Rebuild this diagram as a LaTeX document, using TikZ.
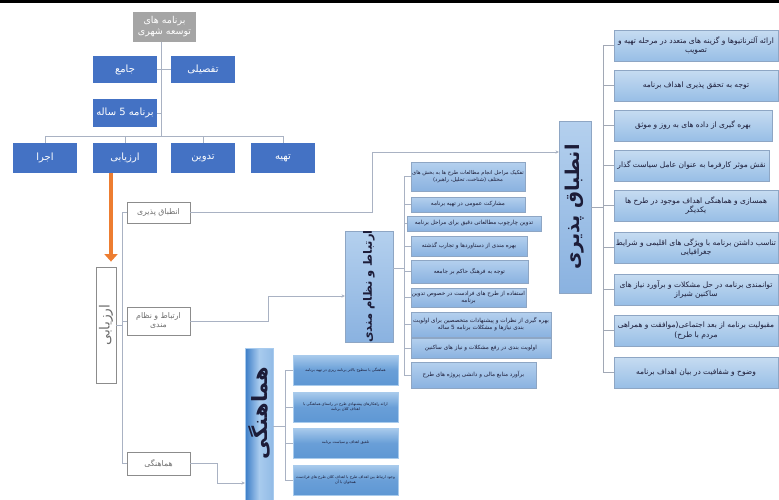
\documentclass[tikz,border=0pt]{standalone}
\usepackage{fontspec}
\setmainfont{DejaVu Sans}
\newfontfamily\fafont[Script=Arabic]{DejaVu Sans}
\TeXXeTstate=1
\usetikzlibrary{arrows.meta,shadows}
\newcommand\fa[1]{\beginR #1\endR}
\definecolor{treeblue}{HTML}{4472C4}
\definecolor{rootgray}{HTML}{A5A5A5}
\definecolor{lineg}{HTML}{A9B2C3}
\definecolor{boxgray}{HTML}{8C8C8C}
\definecolor{textgray}{HTML}{6F6F6F}
\definecolor{orangearr}{HTML}{ED7D31}
\definecolor{lblueA}{HTML}{C6DCF1}
\definecolor{lblueB}{HTML}{98BEE6}
\definecolor{mblueA}{HTML}{B4D0EE}
\definecolor{mblueB}{HTML}{8AB2E0}
\definecolor{bordblue}{HTML}{8EA6C4}
\definecolor{darktext}{HTML}{1C1C38}
\definecolor{hdark}{HTML}{3A7CC6}
\definecolor{hlight}{HTML}{A8CBEE}
\definecolor{hsubA}{HTML}{A9CBEC}
\definecolor{hsubB}{HTML}{5E97D4}
\tikzset{
  conn/.style={draw=lineg, line width=0.7pt},
  arr/.style={conn, -{Stealth[length=3.5pt,width=3.2pt]}},
  treebox/.style={rectangle, fill=treeblue, draw=none, text=white, inner sep=0pt, align=center,
    font=\fafont\fontsize{10}{12}\selectfont},
  rootbox/.style={treebox, fill=rootgray, font=\fafont\fontsize{9.5}{11}\selectfont},
  greybox/.style={rectangle, draw=boxgray, line width=0.8pt, fill=white, text=textgray, inner sep=0pt, align=center,
    font=\fafont\fontsize{7.8}{9}\selectfont},
  rbox/.style={rectangle, draw=bordblue, line width=0.6pt, top color=lblueA, bottom color=lblueB, text=darktext,
    inner sep=0.5pt, align=center, font=\fafont\fontsize{7.5}{9.5}\selectfont,
    drop shadow={opacity=0.25, shadow xshift=1pt, shadow yshift=-1.2pt}},
  mbox/.style={rectangle, draw=bordblue, line width=0.5pt, top color=mblueA, bottom color=mblueB, text=darktext,
    inner sep=0.5pt, align=center, font=\fafont\fontsize{5.7}{7}\selectfont,
    drop shadow={opacity=0.2, shadow xshift=0.8pt, shadow yshift=-0.8pt}},
  hsub/.style={rectangle, draw=hsubA, line width=0.6pt, top color=hsubA, bottom color=hsubB, middle color=hsubB!85!hsubA,
    text=darktext, inner sep=1pt, align=center, font=\fafont\fontsize{3.8}{5}\selectfont},
  bigbox/.style={rectangle, draw=bordblue, line width=0.6pt, top color=mblueA, bottom color=mblueB, inner sep=0pt},
  bigtext/.style={rotate=90, text=darktext, inner sep=0pt, font=\fafont\bfseries\fontsize{19}{22}\selectfont},
}
\begin{document}
\begin{tikzpicture}[x=1pt,y=-1pt]
\useasboundingbox (0,0) rectangle (779,499);
\clip (0,0) rectangle (779,499);
\fill[black] (0,0) rectangle (779,2.5);

% ---------- top tree ----------
\node[rootbox, minimum width=63pt, minimum height=30pt] (root) at (164.5,27) {\fa{برنامه های}\\\fa{توسعه شهری}};
\node[treebox, minimum width=64pt, minimum height=27pt] (jame) at (125,69.5) {\fa{جامع}};
\node[treebox, minimum width=64pt, minimum height=27pt] (tafsili) at (203,69.5) {\fa{تفصیلی}};
\node[treebox, minimum width=64pt, minimum height=28pt] (b5) at (125,113) {\fa{برنامه 5 ساله}};
\node[treebox, minimum width=64pt, minimum height=30pt] (ejra) at (45,158) {\fa{اجرا}};
\node[treebox, minimum width=64pt, minimum height=30pt] (arzyabi) at (125,158) {\fa{ارزیابی}};
\node[treebox, minimum width=64pt, minimum height=30pt] (tadvin) at (203,158) {\fa{تدوین}};
\node[treebox, minimum width=64pt, minimum height=30pt] (tahiye) at (283,158) {\fa{تهیه}};

\coordinate (hub) at (161,136);
\coordinate (jb) at (161,113);
\draw[conn] (root.south -| hub) -- (hub);
\draw[conn] (jame.east) -- (tafsili.west);
\draw[conn] (b5.east) -- (jb);
\draw[conn] (ejra.north) |- (hub);
\draw[conn] (arzyabi.north) |- (hub);
\draw[conn] (tadvin.north) |- (hub);
\draw[conn] (tahiye.north) |- (hub);

% ---------- evaluation ----------
\node[greybox, minimum width=20pt, minimum height=116pt] (vbox) at (106,325) {};
\node[rotate=90, text=textgray, inner sep=0pt, font=\fafont\fontsize{14}{16}\selectfont] (vboxt) at (vbox.center) {\fa{ارزیابی}};
\coordinate (oa) at (111,173);
\draw[orangearr, line width=4.3pt, -{Triangle[width=13pt,length=7.5pt]}, shorten >=5pt] (oa) -- (oa |- vbox.north);

\node[greybox, minimum width=63pt, minimum height=21pt] (s1) at (158.5,212.5) {\fa{انطباق پذیری}};
\node[greybox, minimum width=63pt, minimum height=28pt] (s2) at (158.5,321) {\fa{ارتباط و نظام}\\\fa{مندی}};
\node[greybox, minimum width=63pt, minimum height=23pt] (s3) at (158.5,463.5) {\fa{هماهنگی}};
\coordinate (lb) at (122,325);
\draw[conn] (vbox.east) -- (lb);
\draw[conn] (s1.west) -| (lb);
\draw[conn] (s3.west) -| (lb);
\draw[conn] (s2.west) -- (s2.west -| lb);

% ---------- big boxes ----------
\node[bigbox, minimum width=32pt, minimum height=172pt] (B1) at (575,207) {};
\node[bigtext] (B1t) at (B1.center) {\fa{انطباق پذیری}};
\node[bigbox, minimum width=48pt, minimum height=111pt] (B2) at (369,286.5) {};
\node[bigtext, font=\fafont\bfseries\fontsize{11.5}{14}\selectfont] (B2t) at (B2.center) {\fa{ارتباط و نظام مندی}};
\node[rectangle, draw=hlight, line width=0.6pt, left color=hdark, right color=hlight!80!hdark, middle color=hlight,
      minimum width=28pt, minimum height=156pt, inner sep=0pt] (B3) at (259,426) {};
\node[bigtext, font=\fafont\bfseries\fontsize{21}{24}\selectfont] (B3t) at (259,413) {\fa{هماهنگی}};

% connectors from small boxes to big boxes
\coordinate (k1) at (372,212.5);
\coordinate (a1) at (559,152);
\draw[arr] (s1.east) -- (k1) |- (a1);
\coordinate (k2) at (268,321);
\coordinate (a2) at (345,296);
\draw[arr] (s2.east) -- (k2) |- (a2);
\coordinate (k3) at (217,463.5);
\coordinate (a3) at (245,483);
\draw[arr] (s3.east) -- (k3) |- (a3);

% ---------- middle column ----------
\node[mbox, minimum width=114pt, minimum height=29pt, font=\fafont\fontsize{5.3}{7}\selectfont] (M1) at (468,176.5) {\fa{تفکیک مراحل انجام مطالعات طرح ها به بخش های}\\\fa{مختلف (شناخت، تحلیل، راهبرد)}};
\node[mbox, minimum width=114pt, minimum height=15pt] (M2) at (468,204.5) {\fa{مشارکت عمومی در تهیه برنامه}};
\node[mbox, minimum width=134pt, minimum height=15pt] (M3) at (474,223.5) {\fa{تدوین چارچوب مطالعاتی دقیق برای مراحل برنامه}};
\node[mbox, minimum width=116pt, minimum height=20pt] (M4) at (469,246) {\fa{بهره مندی از دستاوردها و تجارب گذشته}};
\node[mbox, minimum width=117pt, minimum height=23pt] (M5) at (469.5,271.5) {\fa{توجه به فرهنگ حاکم بر جامعه}};
\node[mbox, minimum width=115pt, minimum height=19pt] (M6) at (468.5,297.5) {\fa{استفاده از طرح های فرادست در خصوص تدوین}\\\fa{برنامه}};
\node[mbox, minimum width=140pt, minimum height=25pt] (M7) at (481,324.5) {\fa{بهره گیری از نظرات و پیشنهادات متخصصین برای اولویت}\\\fa{بندی نیازها و مشکلات برنامه 5 ساله}};
\node[mbox, minimum width=140pt, minimum height=20pt] (M8) at (481,348) {\fa{اولویت بندی در رفع مشکلات و نیاز های ساکنین}};
\node[mbox, minimum width=125pt, minimum height=26pt] (M9) at (473.5,375) {\fa{برآورد منابع مالی و دانشی پروژه های طرح}};
\coordinate (mb) at (404,268);
\draw[conn] (B2.east |- mb) -- (mb);
\draw[conn] (M1.west) -| (mb);
\draw[conn] (M9.west) -| (mb);
\foreach \m in {M2,M3,M4,M5,M6,M7,M8} \draw[conn] (\m.west) -- (\m.west -| mb);

% ---------- harmony sub-boxes ----------
\node[hsub, minimum width=105pt, minimum height=30pt] (H1) at (345.5,370) {\fa{هماهنگی با سطوح بالاتر برنامه ریزی در تهیه برنامه}};
\node[hsub, minimum width=105pt, minimum height=30pt] (H2) at (345.5,407) {\fa{ارائه راهکارهای پیشنهادی طرح در راستای هماهنگی با}\\\fa{اهداف کلان برنامه}};
\node[hsub, minimum width=105pt, minimum height=30pt] (H3) at (345.5,443) {\fa{تلفیق اهداف و سیاست برنامه}};
\node[hsub, minimum width=105pt, minimum height=30pt] (H4) at (345.5,480) {\fa{وجود ارتباط بین اهداف طرح با اهداف کلان طرح های فرادست}\\\fa{همخوان با آن}};
\coordinate (hb) at (285,426);
\draw[conn] (B3.east |- hb) -- (hb);
\draw[conn] (H1.west) -| (hb);
\draw[conn] (H4.west) -| (hb);
\draw[conn] (H2.west) -- (H2.west -| hb);
\draw[conn] (H3.west) -- (H3.west -| hb);

% ---------- right column ----------
\node[rbox, minimum width=164pt, minimum height=31pt] (R1) at (696,45.5) {\fa{ارائه آلترناتیوها و گزینه های متعدد در مرحله تهیه و}\\\fa{تصویب}};
\node[rbox, minimum width=164pt, minimum height=31pt] (R2) at (696,85.5) {\fa{توجه به تحقق پذیری اهداف برنامه}};
\node[rbox, minimum width=158pt, minimum height=31pt] (R3) at (693,125.5) {\fa{بهره گیری از داده های به روز و موثق}};
\node[rbox, minimum width=155pt, minimum height=31pt] (R4) at (691.5,165.5) {\fa{نقش موثر کارفرما به عنوان عامل سیاست گذار}};
\node[rbox, minimum width=164pt, minimum height=31pt] (R5) at (696,205.5) {\fa{همسازی و هماهنگی اهداف موجود در طرح ها}\\\fa{یکدیگر}};
\node[rbox, minimum width=164pt, minimum height=31pt] (R6) at (696,247.5) {\fa{تناسب داشتن برنامه با ویژگی های اقلیمی و شرایط}\\\fa{جغرافیایی}};
\node[rbox, minimum width=164pt, minimum height=31pt] (R7) at (696,289.5) {\fa{توانمندی برنامه در حل مشکلات و برآورد نیاز های}\\\fa{ساکنین شیراز}};
\node[rbox, minimum width=164pt, minimum height=31pt] (R8) at (696,330.5) {\fa{مقبولیت برنامه از بعد اجتماعی(موافقت و همراهی}\\\fa{مردم با طرح)}};
\node[rbox, minimum width=164pt, minimum height=31pt] (R9) at (696,372.5) {\fa{وضوح و شفافیت در بیان اهداف برنامه}};
\coordinate (rb) at (603,207);
\draw[conn, draw=lineg!80!gray] (B1.east |- rb) -- (rb);
\draw[conn, draw=lineg!80!gray] (R1.west) -| (rb);
\draw[conn, draw=lineg!80!gray] (R9.west) -| (rb);
\foreach \r in {R2,R3,R4,R5,R6,R7,R8} \draw[conn, draw=lineg!80!gray] (\r.west) -- (\r.west -| rb);
\end{tikzpicture}
\end{document}
